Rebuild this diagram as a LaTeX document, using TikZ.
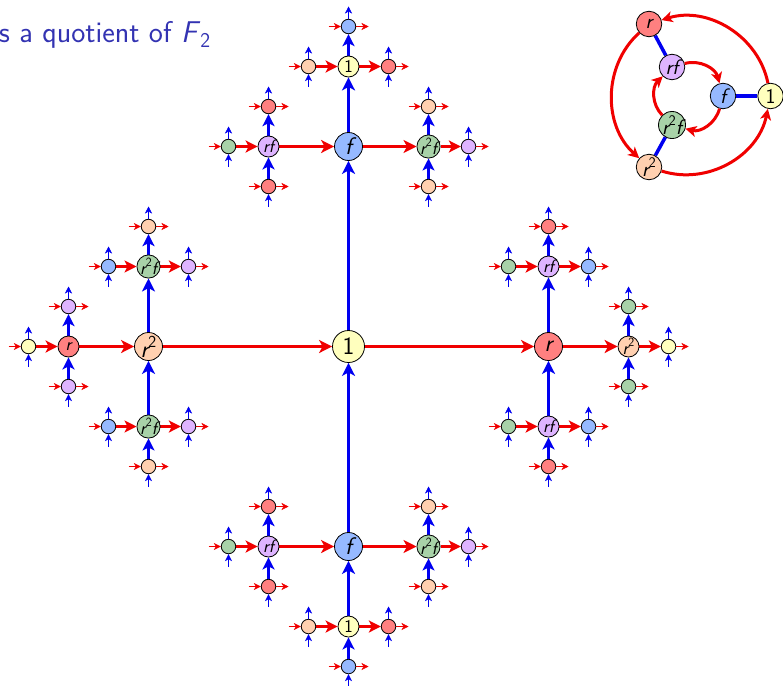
\documentclass[tikz,border=0pt]{standalone}
\usetikzlibrary{arrows.meta,backgrounds}
\definecolor{cOne}{RGB}{255,255,190}
\definecolor{cR}{RGB}{255,128,128}
\definecolor{cRR}{RGB}{255,208,176}
\definecolor{cF}{RGB}{150,185,255}
\definecolor{cRF}{RGB}{222,180,255}
\definecolor{cRRF}{RGB}{168,210,168}
\definecolor{titleblue}{RGB}{51,51,178}
\definecolor{ered}{RGB}{240,0,0}
\definecolor{eblue}{RGB}{0,0,240}
\newcommand\sqtwo{\raisebox{0.42em}{\scalebox{0.7}{\upshape 2}}}
\tikzset{
  c00/.style={fill=cOne}, c10/.style={fill=cR}, c20/.style={fill=cRR},
  c01/.style={fill=cF}, c11/.style={fill=cRF}, c21/.style={fill=cRRF},
  gnode/.style={circle,draw=black,line width=0.8pt,inner sep=0pt},
  lev0/.style={gnode,minimum size=32pt,font=\fontsize{25}{25}\selectfont\sffamily\slshape},
  lev1/.style={gnode,minimum size=28pt,font=\fontsize{24}{24}\selectfont\sffamily\slshape},
  lev2/.style={gnode,minimum size=21pt,font=\fontsize{18}{18}\selectfont\sffamily\slshape},
  lev3/.style={gnode,minimum size=14.5pt},
  e1/.style={line width=3.3pt,-{Stealth[length=13pt,width=13pt,inset=3.5pt]}},
  e2/.style={line width=3.2pt,-{Stealth[length=13pt,width=13pt,inset=3.5pt]}},
  e3/.style={line width=2.8pt,-{Stealth[length=12pt,width=12pt,inset=3pt]}},
  e4/.style={line width=0.35pt,-{Stealth[length=7pt,width=7pt,inset=2pt]}},
  redge/.style={color=ered},
  bedge/.style={color=eblue},
  inode/.style={gnode,minimum size=25.5pt,font=\fontsize{21}{21}\selectfont\sffamily\slshape},
  ired/.style={color=ered,line width=3pt,-{Stealth[length=11pt,width=11pt,inset=3pt]}},
  iblue/.style={color=eblue,line width=3.5pt},
}
\newcommand\elemlabel[2]{%
  \ifcase#2\relax
    \ifcase#1\relax {\upshape 1}\or r\or r\sqtwo\fi
  \or
    \ifcase#1\relax f\or rf\or r\sqtwo f\fi
  \fi}
% #1 name, #2 x, #3 y, #4 k, #5 s, #6 level, #7 direction from parent
\newcommand\cayley[7]{%
  \begingroup
  \ifnum#6<4
    \node[lev#6,c#4#5] (#1) at (#2,#3) {\ifnum#6<3 \elemlabel{#4}{#5}\fi};
  \else
    \coordinate (#1) at (#2,#3);
  \fi
  \ifnum#6<4
    \pgfmathtruncatemacro\cnl{#6+1}%
    \ifcase#6\relax \def\clen{200}\or\def\clen{80}\or\def\clen{40}\or\def\clen{20}\fi
    \pgfmathtruncatemacro\ckE{mod(#4+1+#5,3)}%
    \pgfmathtruncatemacro\ckW{mod(#4+2-#5,3)}%
    \pgfmathtruncatemacro\csN{1-#5}%
    \pgfmathsetmacro\cxE{#2+\clen}%
    \pgfmathsetmacro\cxW{#2-\clen}%
    \pgfmathsetmacro\cyN{#3-\clen}%
    \pgfmathsetmacro\cyS{#3+\clen}%
    \if#7W\else
      \edef\cnext{\noexpand\cayley{#1E}{\cxE}{#3}{\ckE}{#5}{\cnl}{E}}\cnext
      \begin{pgfonlayer}{background}\draw[e\cnl,redge] (#1) -- (#1E);\end{pgfonlayer}
    \fi
    \if#7E\else
      \edef\cnext{\noexpand\cayley{#1W}{\cxW}{#3}{\ckW}{#5}{\cnl}{W}}\cnext
      \begin{pgfonlayer}{background}\draw[e\cnl,redge] (#1W) -- (#1);\end{pgfonlayer}
    \fi
    \if#7S\else
      \edef\cnext{\noexpand\cayley{#1N}{#2}{\cyN}{#4}{\csN}{\cnl}{N}}\cnext
      \begin{pgfonlayer}{background}\draw[e\cnl,bedge] (#1) -- (#1N);\end{pgfonlayer}
    \fi
    \if#7N\else
      \edef\cnext{\noexpand\cayley{#1S}{#2}{\cyS}{#4}{\csN}{\cnl}{S}}\cnext
      \begin{pgfonlayer}{background}\draw[e\cnl,bedge] (#1S) -- (#1);\end{pgfonlayer}
    \fi
  \fi
  \endgroup}
\begin{document}
\begin{tikzpicture}[x=1pt,y=-1pt]
\useasboundingbox (0,0) rectangle (783,685);
\node[anchor=base west,inner sep=0pt,text=titleblue,font=\fontsize{30}{34}\selectfont\sffamily] (title) at (-1,42) {s a quotient of \textsl{F}\textsubscript{2}};
\cayley{o}{348.5}{346.5}{0}{0}{0}{X}
% inset
\node[inode,c00] (i1) at (770.5,96) {\upshape 1};
\node[inode,c10] (ir) at (649,24) {r};
\node[inode,c20] (ir2) at (649,167) {r\sqtwo};
\node[inode,c01] (if) at (723,96) {f};
\node[inode,c11] (irf) at (672,67) {rf};
\node[inode,c21] (ir2f) at (672,125) {r\sqtwo f};
\begin{pgfonlayer}{background}
\draw[iblue] (ir) -- (irf);
\draw[iblue] (if) -- (i1);
\draw[iblue] (ir2f) -- (ir2);
\end{pgfonlayer}
\draw[ired] (i1) to[bend right=48] (ir);
\draw[ired] (ir) to[bend right=48] (ir2);
\draw[ired] (ir2) to[bend right=48] (i1);
\draw[ired] (irf) to[bend left=45] (if);
\draw[ired] (if) to[bend left=45] (ir2f);
\draw[ired] (ir2f) to[bend left=45] (irf);
\end{tikzpicture}
\end{document}
